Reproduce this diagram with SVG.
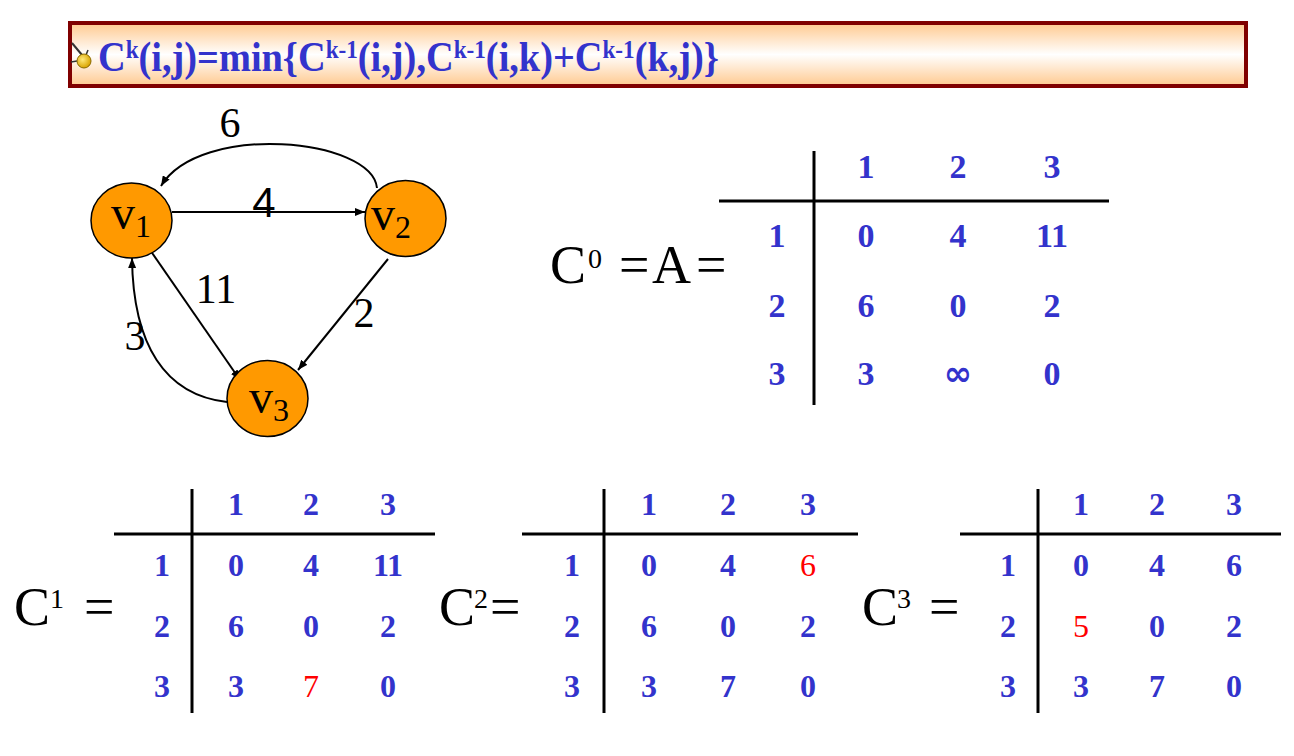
<svg xmlns="http://www.w3.org/2000/svg" width="1294" height="756" viewBox="0 0 1294 756">
<defs>
<linearGradient id="hdr" x1="0" y1="0" x2="0" y2="1">
<stop offset="0" stop-color="#FFC98F"/>
<stop offset="0.5" stop-color="#FFFFFF"/>
<stop offset="1" stop-color="#FFC98F"/>
</linearGradient>
<radialGradient id="bulb" cx="0.4" cy="0.4" r="0.6">
<stop offset="0" stop-color="#FFE97A"/>
<stop offset="1" stop-color="#D9A400"/>
</radialGradient>
<marker id="arr" viewBox="0 0 10 8" refX="10" refY="4" markerWidth="10" markerHeight="8" markerUnits="userSpaceOnUse" orient="auto">
<path d="M0,0 L10,4 L0,8 Z" fill="#000"/>
</marker>
<style>
.b{font-family:"Liberation Serif","Times New Roman",serif;font-weight:bold;fill:#3333CC;text-anchor:middle}
.b34{font-size:34px}
.b32{font-size:32px}
.inf{font-family:"DejaVu Sans",sans-serif;font-weight:bold;font-size:34px}
.r{font-family:"Liberation Serif","Times New Roman",serif;font-weight:normal;fill:#FF0000;text-anchor:middle;font-size:32px}
.lbl{font-family:"Liberation Serif","Times New Roman",serif;fill:#000}
.big{font-size:54px}
.sup{font-size:28px}
.edge{fill:none;stroke:#000;stroke-width:2}
.grid{stroke:#000;stroke-width:3}
.node{fill:#FF9900;stroke:#000;stroke-width:1.5}
.el{font-family:"Liberation Serif","Times New Roman",serif;font-size:42px;fill:#000;text-anchor:middle}
</style>
</defs>

<g id="header">
<rect x="70" y="23" width="1176" height="63" fill="url(#hdr)" stroke="#800000" stroke-width="4"/>
<g id="icon">
<line x1="72" y1="43" x2="82" y2="55" stroke="#333" stroke-width="2"/>
<line x1="88" y1="50" x2="86" y2="55" stroke="#333" stroke-width="1.5"/>
<line x1="71" y1="62" x2="77" y2="61" stroke="#333" stroke-width="1.5"/>
<circle cx="84" cy="61" r="7" fill="url(#bulb)" stroke="#8A6A00" stroke-width="1"/>
</g>
<text x="98" y="71" textLength="621" lengthAdjust="spacingAndGlyphs" font-family="'Liberation Serif','Times New Roman',serif" font-weight="bold" font-size="43" fill="#3333CC">C<tspan font-size="26" dy="-13">k</tspan><tspan dy="13">(i,j)=min{C</tspan><tspan font-size="26" dy="-13">k-1</tspan><tspan dy="13">(i,j),C</tspan><tspan font-size="26" dy="-13">k-1</tspan><tspan dy="13">(i,k)+C</tspan><tspan font-size="26" dy="-13">k-1</tspan><tspan dy="13">(k,j)}</tspan></text>
</g>

<g id="connectors">
<path class="edge" d="M172,212 L365,212" marker-end="url(#arr)"/>
<path class="edge" d="M377,188 C372,138 200,122 161,186" marker-end="url(#arr)"/>
<path class="edge" d="M148,247 L240,380" marker-end="url(#arr)"/>
<path class="edge" d="M388,259 L298,370" marker-end="url(#arr)"/>
<path class="edge" d="M227,402 C165,395 133,345 132,258" marker-end="url(#arr)"/>
<text class="el" x="230" y="137">6</text>
<text x="264" y="217" font-family="'Liberation Sans',Arial,sans-serif" font-size="42" text-anchor="middle" fill="#000">4</text>
<text class="el" x="216" y="303">11</text>
<text class="el" x="364" y="327">2</text>
<text class="el" x="135" y="350">3</text>
</g>

<g id="v1">
<ellipse class="node" cx="131.5" cy="220.5" rx="40.5" ry="37.5"/>
<text class="lbl" x="111" y="229" font-size="48">v<tspan font-size="32" dy="8">1</tspan></text>
</g>
<g id="v2">
<ellipse class="node" cx="405.5" cy="218.5" rx="40.5" ry="38"/>
<text class="lbl" x="371" y="230" font-size="48">v<tspan font-size="32" dy="8">2</tspan></text>
</g>
<g id="v3">
<ellipse class="node" cx="267.5" cy="398.5" rx="40.5" ry="38"/>
<text class="lbl" x="249" y="413" font-size="48">v<tspan font-size="32" dy="8">3</tspan></text>
</g>

<g id="C0">
<text class="lbl big" x="550" y="283">C</text>
<text class="lbl sup" x="588" y="268">0</text>
<text class="lbl big" x="619" y="283">=</text>
<text class="lbl big" x="652" y="283">A</text>
<text class="lbl big" x="696" y="283">=</text>
<line class="grid" x1="814" y1="151" x2="814" y2="405"/>
<line class="grid" x1="719" y1="201" x2="1109" y2="201"/>
<g class="b b34">
<text x="866" y="178">1</text><text x="958" y="178">2</text><text x="1052" y="178">3</text>
<text x="777" y="247">1</text><text x="866" y="247">0</text><text x="958" y="247">4</text><text x="1052" y="247">11</text>
<text x="777" y="317">2</text><text x="866" y="317">6</text><text x="958" y="317">0</text><text x="1052" y="317">2</text>
<text x="777" y="385">3</text><text x="866" y="385">3</text><text class="inf" x="958" y="385">∞</text><text x="1052" y="385">0</text>
</g>
</g>

<g id="C1">
<text class="lbl big" x="14" y="625">C</text>
<text class="lbl sup" x="50" y="608">1</text>
<text class="lbl big" x="84" y="625">=</text>
<line class="grid" x1="192" y1="489" x2="192" y2="713"/>
<line class="grid" x1="114" y1="534" x2="435" y2="534"/>
<g class="b b32">
<text x="236" y="515">1</text><text x="311" y="515">2</text><text x="388" y="515">3</text>
<text x="162" y="576">1</text><text x="236" y="576">0</text><text x="311" y="576">4</text><text x="388" y="576">11</text>
<text x="162" y="637">2</text><text x="236" y="637">6</text><text x="311" y="637">0</text><text x="388" y="637">2</text>
<text x="162" y="697">3</text><text x="236" y="697">3</text><text x="388" y="697">0</text>
</g>
<text class="r" x="311" y="697">7</text>
</g>

<g id="C2">
<text class="lbl big" x="439" y="625">C</text>
<text class="lbl sup" x="474" y="608">2</text>
<text class="lbl big" x="490" y="625">=</text>
<line class="grid" x1="604" y1="489" x2="604" y2="713"/>
<line class="grid" x1="522" y1="534" x2="858" y2="534"/>
<g class="b b32">
<text x="649" y="515">1</text><text x="728" y="515">2</text><text x="808" y="515">3</text>
<text x="572" y="576">1</text><text x="649" y="576">0</text><text x="728" y="576">4</text>
<text x="572" y="637">2</text><text x="649" y="637">6</text><text x="728" y="637">0</text><text x="808" y="637">2</text>
<text x="572" y="697">3</text><text x="649" y="697">3</text><text x="728" y="697">7</text><text x="808" y="697">0</text>
</g>
<text class="r" x="808" y="576">6</text>
</g>

<g id="C3">
<text class="lbl big" x="862" y="625">C</text>
<text class="lbl sup" x="897" y="608">3</text>
<text class="lbl big" x="929" y="625">=</text>
<line class="grid" x1="1038" y1="489" x2="1038" y2="713"/>
<line class="grid" x1="960" y1="534" x2="1281" y2="534"/>
<g class="b b32">
<text x="1081" y="515">1</text><text x="1157" y="515">2</text><text x="1234" y="515">3</text>
<text x="1008" y="576">1</text><text x="1081" y="576">0</text><text x="1157" y="576">4</text><text x="1234" y="576">6</text>
<text x="1008" y="637">2</text><text x="1157" y="637">0</text><text x="1234" y="637">2</text>
<text x="1008" y="697">3</text><text x="1081" y="697">3</text><text x="1157" y="697">7</text><text x="1234" y="697">0</text>
</g>
<text class="r" x="1081" y="637">5</text>
</g>
</svg>
